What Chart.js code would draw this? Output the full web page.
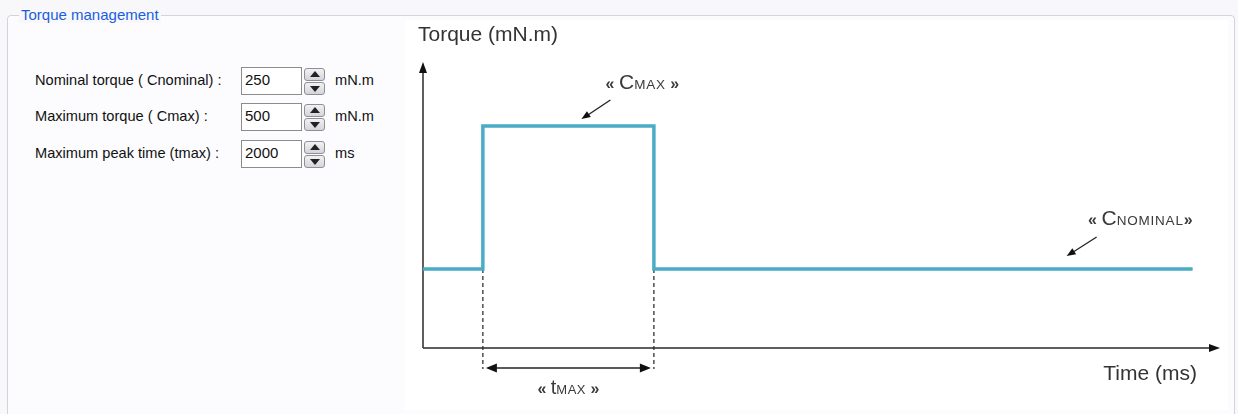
<!DOCTYPE html>
<html>
<head>
<meta charset="utf-8">
<script src="https://cdn.jsdelivr.net/npm/chart.js@4"></script>
<style>
  html, body { margin: 0; padding: 0; }
  body { width: 1238px; height: 414px; background: #f8f8fa; position: relative; overflow: hidden; font-family: "Liberation Sans", Arial, sans-serif; }
  .group { position: absolute; left: 7px; top: 15px; width: 1226px; height: 420px; border: 1px solid #d3d3db; border-radius: 4px; background: #fcfcfe; }
  .legend { position: absolute; left: 19px; top: 6px; padding: 0 2px; background: #f8f8fa; color: #1a5ee0; font-size: 15px; line-height: 17px; }
  .row { position: absolute; left: 35px; height: 28px; font-size: 14.6px; color: #111; }
  .row .lbl { position: absolute; left: 0; top: 5px; white-space: nowrap; }
  .row .box { position: absolute; left: 206px; top: 0; width: 56px; height: 26px; border: 1px solid #8c8c8c; background: #fff; font-size: 15px; line-height: 24px; padding-left: 3px; box-sizing: content-box; }
  .row .spin { position: absolute; left: 269px; top: 1px; width: 21px; height: 26px; }
  .row .spin div { position: relative; height: 11px; border: 1px solid #8f8f95; border-radius: 3px; background: linear-gradient(#f2f2f4, #d4d4da); margin-bottom: 1px; }
  .row .spin div::after { content: ""; position: absolute; left: 5px; width: 0; height: 0; border-left: 5px solid transparent; border-right: 5px solid transparent; }
  .row .spin .up::after { top: 2px; border-bottom: 6px solid #222; }
  .row .spin .dn::after { top: 3px; border-top: 6px solid #222; }
  .row .unit { position: absolute; left: 300px; top: 5px; white-space: nowrap; }
  #panel { position: absolute; left: 405px; top: 20px; width: 823px; height: 390px; background: #ffffff; }
</style>
</head>
<body>
<div class="group"></div>
<div class="legend">Torque management</div>
<div id="form"></div>
<div id="panel"><canvas id="torqueChart" width="823" height="390"></canvas></div>
<script>
// settings shown in the form
var fieldLabels = ["Nominal torque ( Cnominal) :", "Maximum torque ( Cmax) :", "Maximum peak time (tmax) :"];
var fieldValues = ["250", "500", "2000"];
var fieldUnits = ["mN.m", "mN.m", "ms"];

// torque profile (schematic)
var timeMs = [0, 700, 700, 2700, 2700, 9000];
var torque = [250, 250, 500, 500, 250, 250];
var peakStart = 700, peakEnd = 2700;
var axisTitles = ["Torque (mN.m)", "Time (ms)"];

var form = document.getElementById("form");
var rowTops = [67, 103, 140];
for (var i = 0; i < fieldLabels.length; i++) {
    var r = document.createElement("div");
    r.className = "row";
    r.style.top = rowTops[i] + "px";
    r.innerHTML = '<span class="lbl">' + fieldLabels[i] + '</span>' +
        '<div class="box">' + fieldValues[i] + '</div>' +
        '<div class="spin"><div class="up"></div><div class="dn"></div></div>' +
        '<span class="unit">' + fieldUnits[i] + '</span>';
    form.appendChild(r);
}

var points = timeMs.map(function (t, i) { return { x: t, y: torque[i] }; });

function arrowHead(ctx, x, y, angle, len, w) {
    ctx.save();
    ctx.translate(x, y);
    ctx.rotate(angle);
    ctx.beginPath();
    ctx.moveTo(0, 0);
    ctx.lineTo(-len, -w / 2);
    ctx.lineTo(-len, w / 2);
    ctx.closePath();
    ctx.fill();
    ctx.restore();
}

// text made of pieces with their own size (fake small caps)
function capsText(ctx, parts, cx, cy, alignRight) {
    var total = 0;
    parts.forEach(function (p) { ctx.font = p[2] + p[1] + 'px "Liberation Sans", Arial'; total += ctx.measureText(p[0]).width + (p[3] || 0) * p[0].length; });
    var x = alignRight ? cx - total : cx - total / 2;
    ctx.textBaseline = "alphabetic";
    ctx.textAlign = "left";
    parts.forEach(function (p) {
        ctx.font = p[2] + p[1] + 'px "Liberation Sans", Arial';
        for (var k = 0; k < p[0].length; k++) {
            ctx.fillText(p[0][k], x, cy);
            x += ctx.measureText(p[0][k]).width + (p[3] || 0);
        }
    });
}

var sketch = {
    id: "sketch",
    beforeDatasetsDraw: function (chart) {
        var ctx = chart.ctx, a = chart.chartArea;
        var xs = chart.scales.x, ys = chart.scales.y;
        var x0 = xs.getPixelForValue(0);
        ctx.save();
        ctx.strokeStyle = "#2b2b2b";
        ctx.fillStyle = "#111";
        ctx.lineWidth = 1.5;
        // axes with arrows
        ctx.beginPath();
        ctx.moveTo(x0, a.bottom);
        ctx.lineTo(x0, a.top + 6);
        ctx.moveTo(x0, a.bottom);
        ctx.lineTo(a.right - 6, a.bottom);
        ctx.stroke();
        arrowHead(ctx, x0, a.top, -Math.PI / 2, 11, 8);
        arrowHead(ctx, a.right, a.bottom, 0, 11, 8);

        // dashed tmax markers
        var xa = xs.getPixelForValue(peakStart), xb = xs.getPixelForValue(peakEnd);
        var yn = ys.getPixelForValue(torque[0]);
        var yd = a.bottom + 20;
        ctx.setLineDash([4, 3]);
        ctx.lineWidth = 1.3;
        ctx.strokeStyle = "#333";
        ctx.beginPath();
        ctx.moveTo(xa, yn); ctx.lineTo(xa, yd + 1);
        ctx.moveTo(xb, yn); ctx.lineTo(xb, yd + 1);
        ctx.stroke();
        ctx.setLineDash([]);
        ctx.lineWidth = 1.5;
        ctx.strokeStyle = "#222";
        ctx.beginPath();
        ctx.moveTo(xa + 8, yd); ctx.lineTo(xb - 8, yd);
        ctx.stroke();
        arrowHead(ctx, xa + 3, yd, Math.PI, 11, 9);
        arrowHead(ctx, xb - 3, yd, 0, 11, 9);

        // labels
        ctx.fillStyle = "#3a3a3a";
        capsText(ctx, [["\u00ab ", 16, "bold "], ["t", 20, ""], ["MAX", 13, "", 0.5], [" \u00bb", 16, "bold "]], (xa + xb) / 2, yd + 26, false);

        var ym = ys.getPixelForValue(torque[2]);
        var mid = (xa + xb) / 2;
        capsText(ctx, [["\u00ab ", 16, "bold "], ["C", 21, ""], ["MAX", 13.5, "", 0.8], [" \u00bb", 16, "bold "]], mid + 74, ym - 37, false);
        ctx.strokeStyle = "#222";
        ctx.fillStyle = "#111";
        ctx.lineWidth = 1.3;
        ctx.beginPath();
        ctx.moveTo(mid + 42, ym - 26); ctx.lineTo(mid + 18, ym - 10);
        ctx.stroke();
        arrowHead(ctx, mid + 13, ym - 7, Math.atan2(19, -29), 9, 7);

        var xe = xs.getPixelForValue(timeMs[timeMs.length - 1]);
        ctx.fillStyle = "#3a3a3a";
        capsText(ctx, [["\u00ab ", 16, "bold "], ["C", 21, ""], ["NOMINAL", 13.5, "", 0.8], ["\u00bb", 16, "bold "]], xe, yn - 44, true);
        ctx.beginPath();
        ctx.moveTo(xe - 96, yn - 32); ctx.lineTo(xe - 121, yn - 16);
        ctx.stroke();
        ctx.fillStyle = "#111";
        arrowHead(ctx, xe - 126, yn - 13, Math.atan2(19, -30), 9, 7);

        // axis titles
        ctx.fillStyle = "#333";
        ctx.font = '21px "Liberation Sans", Arial';
        ctx.textAlign = "left";
        ctx.textBaseline = "middle";
        ctx.fillText(axisTitles[0], x0 - 5, 15);
        ctx.textAlign = "right";
        ctx.fillText(axisTitles[1], a.right - 23, a.bottom + 26);
        ctx.restore();
    }
};

new Chart(document.getElementById("torqueChart").getContext("2d"), {
    type: "line",
    data: {
        datasets: [{
            data: points,
            borderColor: "#4aacc6",
            borderWidth: 3.5,
            pointRadius: 0,
            tension: 0,
            fill: false
        }]
    },
    options: {
        responsive: false,
        animation: false,
        layout: { padding: { left: 18, right: 8, top: 42, bottom: 62 } },
        plugins: { legend: { display: false }, tooltip: { enabled: false } },
        scales: {
            x: { type: "linear", min: 0, max: 9320, display: false },
            y: { type: "linear", min: 112, max: 612, display: false }
        }
    },
    plugins: [sketch]
});
</script>
</body>
</html>
